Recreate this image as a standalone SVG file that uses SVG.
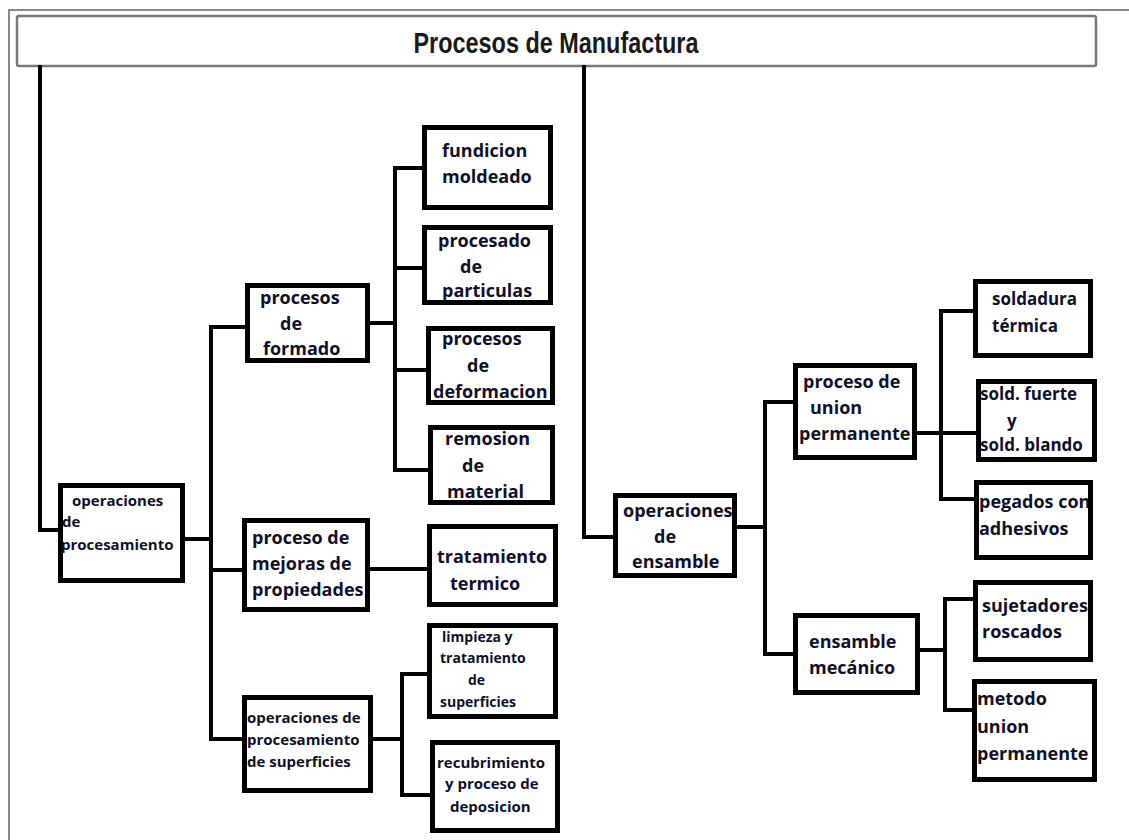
<svg xmlns="http://www.w3.org/2000/svg" width="1129" height="840" viewBox="0 0 1129 840">
<style>
.frame{fill:none;stroke:#888;stroke-width:2}
.title{fill:#fff;stroke:#777;stroke-width:2.5}
.box{fill:#fff;stroke:#000;stroke-width:5}
.c{fill:none;stroke:#000;stroke-width:4;stroke-linecap:square}
text{font-family:"Open Sans","Noto Sans",sans-serif;font-weight:bold;fill:#10102a}
.t{font-family:"Liberation Sans",Arial,sans-serif;font-weight:bold;font-size:29px;fill:#1a1a1a}
.s14{font-size:14px}.s15{font-size:15px}.s17{font-size:17px}.s18{font-size:18px}
</style>
<defs>
<clipPath id="clipPeg"><rect x="979" y="485" width="109" height="70"/></clipPath>
</defs>
<rect width="1129" height="840" fill="#fff"/>
<path class="frame" d="M1129,10 H9 V840"/>
<g id="title">
<rect class="title" x="17" y="16" width="1079" height="50" rx="2"/>
<text class="t" x="556" y="53" text-anchor="middle" textLength="285" lengthAdjust="spacingAndGlyphs">Procesos de Manufactura</text>
</g>
<g id="connectors">
<path class="c" d="M40,67 V530 H58"/>
<path class="c" d="M584,67 V537 H613"/>
<path class="c" d="M185,539 H211 M211,327 V739 M211,327 H245 M211,570 H242 M211,739 H242"/>
<path class="c" d="M370,323 H395 M395,168 V470 M395,168 H422 M395,268 H422 M395,370 H426 M395,470 H428"/>
<path class="c" d="M370,569 H427"/>
<path class="c" d="M373,739 H402 M402,674 V795 M402,674 H427 M402,795 H430"/>
<path class="c" d="M737,527 H765 M765,402 V654 M765,402 H793 M765,654 H793"/>
<path class="c" d="M917,433 H976 M941,311 V499 M941,311 H973 M941,499 H974"/>
<path class="c" d="M920,650 H945 M945,599 V710 M945,599 H973 M945,710 H972"/>
</g>
<g id="op-procesamiento">
<rect class="box" x="60.5" y="485.5" width="122" height="95"/>
<text class="s15" x="72" y="506">operaciones</text>
<text class="s15" x="62" y="527">de</text>
<text class="s15" x="61" y="550">procesamiento</text>
</g>
<g id="procesos-formado">
<rect class="box" x="247.5" y="285.5" width="120" height="75"/>
<text class="s18" x="260" y="304">procesos</text>
<text class="s18" x="280" y="330">de</text>
<text class="s18" x="263" y="355">formado</text>
</g>
<g id="proceso-mejoras">
<rect class="box" x="244.5" y="520.5" width="123" height="89"/>
<text class="s18" x="252" y="544">proceso de</text>
<text class="s18" x="252" y="570">mejoras de</text>
<text class="s18" x="252" y="596">propiedades</text>
</g>
<g id="op-superficies">
<rect class="box" x="244.5" y="697.5" width="126" height="93"/>
<text class="s15" x="247" y="723">operaciones de</text>
<text class="s15" x="247" y="745">procesamiento</text>
<text class="s15" x="247" y="767">de superficies</text>
</g>
<g id="fundicion">
<rect class="box" x="424.5" y="127.5" width="126" height="80"/>
<text class="s18" x="442" y="157">fundicion</text>
<text class="s18" x="442" y="183">moldeado</text>
</g>
<g id="procesado">
<rect class="box" x="424.5" y="227.5" width="126" height="75"/>
<text class="s18" x="438" y="247">procesado</text>
<text class="s18" x="460" y="273">de</text>
<text class="s18" x="442" y="297">particulas</text>
</g>
<g id="deformacion">
<rect class="box" x="428.5" y="328.5" width="124" height="74"/>
<text class="s18" x="442" y="345">procesos</text>
<text class="s18" x="467" y="372">de</text>
<text class="s18" x="433" y="398">deformacion</text>
</g>
<g id="remosion">
<rect class="box" x="430.5" y="427.5" width="122" height="75"/>
<text class="s18" x="445" y="445">remosion</text>
<text class="s18" x="462" y="472">de</text>
<text class="s18" x="447" y="498">material</text>
</g>
<g id="tratamiento">
<rect class="box" x="429.5" y="526.5" width="126" height="78"/>
<text class="s18" x="437" y="563">tratamiento</text>
<text class="s18" x="450" y="590">termico</text>
</g>
<g id="limpieza">
<rect class="box" x="429.5" y="625.5" width="126" height="91"/>
<text class="s14" x="442" y="642">limpieza y</text>
<text class="s14" x="440" y="663">tratamiento</text>
<text class="s14" x="468" y="685">de</text>
<text class="s14" x="440" y="707">superficies</text>
</g>
<g id="recubrimiento">
<rect class="box" x="432.5" y="742.5" width="125" height="88"/>
<text class="s15" x="437" y="768">recubrimiento</text>
<text class="s15" x="445" y="789">y proceso de</text>
<text class="s15" x="450" y="812">deposicion</text>
</g>
<g id="op-ensamble">
<rect class="box" x="615.5" y="495.5" width="119" height="80"/>
<text class="s18" x="623" y="517">operaciones</text>
<text class="s18" x="654" y="543">de</text>
<text class="s18" x="632" y="568">ensamble</text>
</g>
<g id="union-permanente">
<rect class="box" x="795.5" y="365.5" width="119" height="92"/>
<text class="s18" x="803" y="388">proceso de</text>
<text class="s18" x="810" y="414">union</text>
<text class="s18" x="799" y="440">permanente</text>
</g>
<g id="ensamble-mecanico">
<rect class="box" x="795.5" y="615.5" width="122" height="77"/>
<text class="s18" x="809" y="648">ensamble</text>
<text class="s18" x="809" y="674">mecánico</text>
</g>
<g id="soldadura">
<rect class="box" x="975.5" y="281.5" width="115" height="74"/>
<text class="s17" x="992" y="305">soldadura</text>
<text class="s17" x="992" y="332">térmica</text>
</g>
<g id="sold-fuerte">
<rect class="box" x="978.5" y="381.5" width="116" height="78"/>
<text class="s17" x="980" y="400">sold. fuerte</text>
<text class="s17" x="1007" y="427">y</text>
<text class="s17" x="980" y="451">sold. blando</text>
</g>
<g id="pegados">
<rect class="box" x="976.5" y="482.5" width="114" height="75"/>
<g clip-path="url(#clipPeg)">
<text class="s18" x="979" y="508">pegados con</text>
<text class="s18" x="979" y="535">adhesivos</text>
</g>
</g>
<g id="sujetadores">
<rect class="box" x="975.5" y="582.5" width="115" height="77"/>
<text class="s18" x="982" y="612">sujetadores</text>
<text class="s18" x="982" y="638">roscados</text>
</g>
<g id="metodo">
<rect class="box" x="974.5" y="681.5" width="120" height="98"/>
<text class="s18" x="977" y="705">metodo</text>
<text class="s18" x="977" y="733">union</text>
<text class="s18" x="977" y="760">permanente</text>
</g>
</svg>
